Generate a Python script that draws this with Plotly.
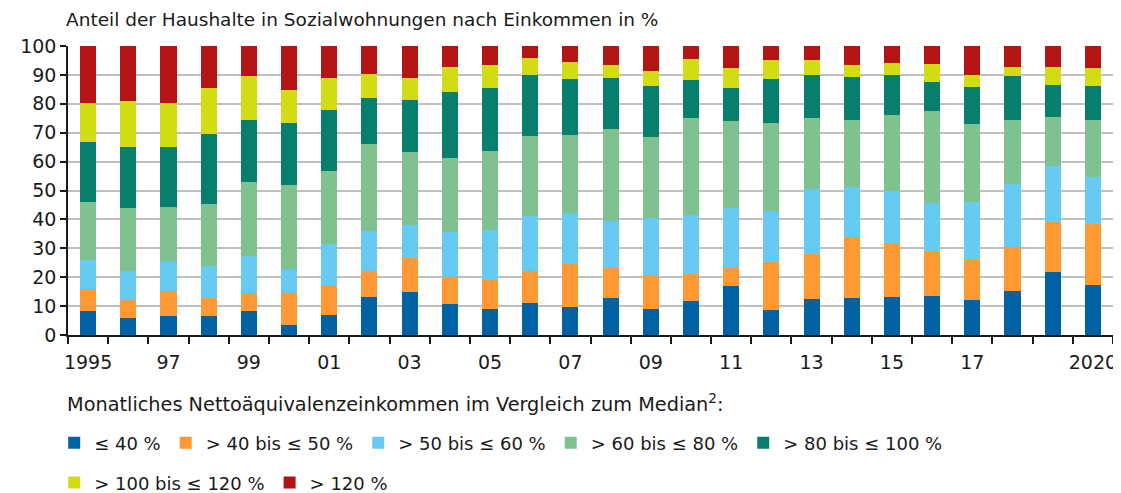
import plotly.graph_objects as go

years = list(range(1995, 2021))
tick_years = [1995, 1997, 1999, 2001, 2003, 2005, 2007, 2009, 2011, 2013, 2015, 2017, 2020]
tick_text = ["1995", "97", "99", "01", "03", "05", "07", "09", "11", "13", "15", "17", "2020"]

s_le40 = [8.2, 5.9, 6.6, 6.6, 8.2, 3.5, 6.9, 13.0, 14.8, 10.6, 9.0, 11.1, 9.7, 12.8, 9.0, 11.6, 17.0, 8.5, 12.5, 12.8, 13.3, 13.5, 12.1, 15.1, 21.7, 17.2]
s_40_50 = [7.8, 6.3, 8.4, 6.3, 6.3, 11.0, 10.2, 9.0, 12.0, 9.5, 10.1, 11.2, 14.9, 10.5, 11.5, 9.6, 6.4, 16.9, 15.4, 21.2, 18.1, 15.7, 14.1, 15.5, 17.5, 21.3]
s_50_60 = [9.8, 10.1, 10.7, 11.1, 12.8, 8.2, 14.3, 14.1, 11.1, 15.5, 17.1, 19.0, 17.5, 16.3, 20.1, 20.4, 20.5, 17.6, 22.7, 17.1, 18.3, 16.4, 19.7, 21.8, 19.2, 16.3]
s_60_80 = [20.1, 21.5, 18.6, 21.3, 25.6, 29.2, 25.2, 29.9, 25.3, 25.8, 27.6, 27.4, 27.0, 31.6, 27.8, 33.4, 30.0, 30.4, 24.5, 23.3, 26.5, 32.0, 27.0, 22.0, 16.9, 19.6]
s_80_100 = [20.9, 21.3, 20.8, 24.4, 21.5, 21.5, 21.3, 15.9, 18.2, 22.7, 21.7, 21.3, 19.4, 17.7, 17.8, 13.2, 11.6, 15.3, 14.8, 14.9, 13.9, 9.9, 12.9, 15.2, 11.2, 11.6]
s_100_120 = [13.6, 15.9, 15.2, 15.9, 15.3, 11.5, 11.0, 8.4, 7.4, 8.5, 7.9, 6.0, 6.0, 4.4, 5.1, 7.2, 6.8, 6.5, 5.3, 4.1, 3.9, 6.3, 4.3, 3.3, 6.4, 6.4]
s_gt120 = [19.6, 19.0, 19.7, 14.4, 10.3, 15.1, 11.1, 9.7, 11.2, 7.4, 6.6, 4.0, 5.5, 6.7, 8.7, 4.6, 7.7, 4.8, 4.8, 6.6, 6.0, 6.2, 9.9, 7.1, 7.1, 7.6]

series_names = ["≤ 40 %", "> 40 bis ≤ 50 %", "> 50 bis ≤ 60 %", "> 60 bis ≤ 80 %",
                "> 80 bis ≤ 100 %", "> 100 bis ≤ 120 %", "> 120 %"]
series_values = [s_le40, s_40_50, s_50_60, s_60_80, s_80_100, s_100_120, s_gt120]
series_colors = ["#0061A3", "#FF9933", "#66CAF2", "#80C28F", "#087E6C", "#D2DC14", "#B41414"]

FONT = "DejaVu Sans"

fig = go.Figure()
for i, (name, vals, col) in enumerate(zip(series_names, series_values, series_colors)):
    fig.add_trace(go.Bar(
        x=years, y=vals, name=name,
        marker=dict(color=col, line=dict(width=0)),
        legend="legend" if i < 5 else "legend2",
    ))

fig.update_layout(
    barmode="stack",
    bargap=0.6,
    width=1113, height=485,
    margin=dict(l=60, r=8, t=38, b=158, autoexpand=False),
    plot_bgcolor="white", paper_bgcolor="white",
    font=dict(family=FONT, size=18, color="#1a1a1a"),
    xaxis=dict(
        range=[1994.5, 2020.5],
        tickmode="array", tickvals=tick_years, ticktext=tick_text,
        ticks="", showgrid=False, automargin=False,
        showline=True, linecolor="#1a1a1a", linewidth=1.5,
        ticklabelstandoff=9,
        tickfont=dict(size=19),
        minor=dict(tickmode="linear", tick0=0.5, dtick=1, ticks="outside",
                   ticklen=7, tickwidth=1.5, tickcolor="#1a1a1a", showgrid=False),
        zeroline=False,
    ),
    yaxis=dict(
        range=[0, 100], dtick=10, automargin=False,
        showgrid=True, gridcolor="#C0C0C0", gridwidth=1.6,
        showline=True, linecolor="#1a1a1a", linewidth=1.5,
        ticks="outside", ticklen=6, tickwidth=1.5, tickcolor="#1a1a1a",
        tickfont=dict(size=19),
        zeroline=False,
    ),
    legend=dict(
        orientation="h", xref="container", yref="container",
        x=0.0415, xanchor="left", y=0.103, yanchor="middle",
        font=dict(size=18), bgcolor="rgba(0,0,0,0)", traceorder="normal",
    ),
    legend2=dict(
        orientation="h", xref="container", yref="container",
        x=0.0415, xanchor="left", y=0.021, yanchor="middle",
        font=dict(size=18), bgcolor="rgba(0,0,0,0)", traceorder="normal",
    ),
    annotations=[
        dict(text="Anteil der Haushalte in Sozialwohnungen nach Einkommen in %",
             xref="paper", yref="paper", x=-0.004, y=1.09, xanchor="left", yanchor="middle",
             showarrow=False, font=dict(size=18.5)),
        dict(text="Monatliches Nettoäquivalenzeinkommen im Vergleich zum Median<sup>2</sup>:",
             xref="paper", yref="paper", x=-0.003, y=-0.235, xanchor="left", yanchor="middle",
             showarrow=False, font=dict(size=19.3)),
    ],
)

fig.write_html("out.html")
